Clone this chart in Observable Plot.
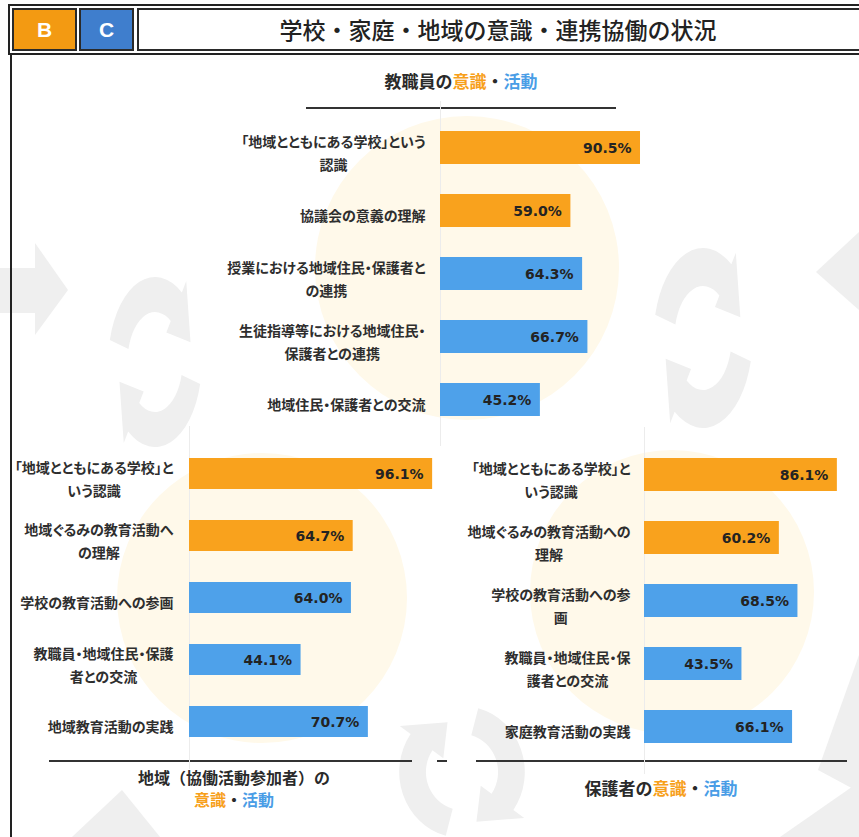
<!DOCTYPE html>
<html><head><meta charset="utf-8">
<script src="https://cdn.jsdelivr.net/npm/d3@7"></script>
<script src="https://cdn.jsdelivr.net/npm/@observablehq/plot@0.6"></script>
<style>
body{margin:0;background:#fff;}
#page{position:relative;width:859px;height:837px;overflow:hidden;background:#fff;font-family:"Noto Sans CJK JP",sans-serif;}
.abs{position:absolute;}
.box{box-sizing:border-box;border:2px solid #2a2a2a;color:#fff;font-family:"Liberation Sans",Arial,sans-serif;font-weight:bold;font-size:21px;text-align:center;line-height:39px;}
.title{left:137px;top:8px;width:722px;height:43px;line-height:43px;text-align:center;font-size:23px;font-weight:500;color:#222;letter-spacing:0px;}
.heading{font-weight:bold;font-size:17px;color:#2a2a2a;text-align:center;line-height:24px;}
.o{color:#F7A01B;}
.b{color:#4A9DE6;}
.rule{height:2px;background:#333;}
</style></head>
<body><div id="page">
<svg id="deco" class="abs" style="left:0;top:0" width="859" height="837"></svg>
<div class="abs" style="left:8px;top:4px;width:860px;height:51px;border:2px solid #222;box-sizing:border-box;"></div>
<div class="abs box" style="left:12px;top:8px;width:65px;height:43px;background:#F39A12;">B</div>
<div class="abs box" style="left:79px;top:8px;width:55px;height:43px;background:#3F7ECD;">C</div>
<div class="abs" style="left:137px;top:8px;width:730px;height:43px;border:2px solid #2a2a2a;box-sizing:border-box;background:#fff;"></div>
<div class="abs title">学校・家庭・地域の意識・連携協働の状況</div>
<div class="abs" style="left:10px;top:54px;width:2px;height:783px;background:#222;"></div>

<div class="abs heading" style="left:311px;top:69px;width:300px;">教職員の<span class="o">意識</span>・<span class="b">活動</span></div>
<div class="abs rule" style="left:306px;top:107px;width:310px;"></div>

<div class="abs rule" style="left:49px;top:760px;width:363px;"></div>
<div class="abs rule" style="left:437px;top:760px;width:10px;"></div>
<div class="abs rule" style="left:476px;top:760px;width:371px;"></div>
<div class="abs heading" style="left:84px;top:767px;width:300px;font-size:16px;line-height:20px;height:20px;">地域（協働活動参加者）の</div>
<div class="abs heading" style="left:84px;top:789px;width:300px;font-size:16px;line-height:20px;height:20px;"><span class="o">意識</span>・<span class="b">活動</span></div>
<div class="abs heading" style="left:511px;top:776px;width:300px;">保護者の<span class="o">意識</span>・<span class="b">活動</span></div>
</div>
<script>
// ---- data ----
const kinds = ["意識", "意識", "活動", "活動", "活動"];

const teacherLabels = [
  "「地域とともにある学校」という\n認識",
  "協議会の意義の理解",
  "授業における地域住民・保護者と\nの連携",
  "生徒指導等における地域住民・\n保護者との連携",
  "地域住民・保護者との交流"
];
const teacherValues = [90.5, 59.0, 64.3, 66.7, 45.2];

const communityLabels = [
  "「地域とともにある学校」と\nいう認識",
  "地域ぐるみの教育活動へ\nの理解",
  "学校の教育活動への参画",
  "教職員・地域住民・保護\n者との交流",
  "地域教育活動の実践"
];
const communityValues = [96.1, 64.7, 64.0, 44.1, 70.7];

const parentLabels = [
  "「地域とともにある学校」と\nいう認識",
  "地域ぐるみの教育活動への\n理解",
  "学校の教育活動への参\n画",
  "教職員・地域住民・保\n護者との交流",
  "家庭教育活動の実践"
];
const parentValues = [86.1, 60.2, 68.5, 43.5, 66.1];

const ORANGE = "#F9A21D";
const BLUE = "#4EA1EA";

// ---- decoration (background circles and faint arrows) ----
const NS = "http://www.w3.org/2000/svg";
const deco = document.getElementById("deco");
function add(tag, attrs, parent = deco) {
  const el = document.createElementNS(NS, tag);
  for (const k in attrs) el.setAttribute(k, attrs[k]);
  parent.appendChild(el);
  return el;
}
[[467, 268, 152], [262, 598, 145], [672, 592, 142]].forEach(([cx, cy, r]) =>
  add("circle", {cx, cy, r, fill: "#FFF9EA"}));
function arcArrow(R, r, a0, a1, head, w) {
  const P = (rho, deg) => { const t = deg * Math.PI / 180; return [(rho * Math.cos(t)).toFixed(1), (rho * Math.sin(t)).toFixed(1)].join(","); };
  const dir = a1 > a0 ? 1 : -1;
  const mid = (R + r) / 2;
  return `M${P(R, a0)}A${R},${R} 0 0 ${dir > 0 ? 1 : 0} ${P(R, a1)}L${P(R + w, a1)}L${P(mid, a1 + dir * head)}L${P(r - w, a1)}L${P(r, a1)}A${r},${r} 0 0 ${dir > 0 ? 0 : 1} ${P(r, a0)}Z`;
}
const GREY = "#EFEFEF";
function pair(cx, cy, sx, sy, rot, R, r) {
  const g = add("g", {transform: `translate(${cx},${cy}) rotate(${rot}) scale(${sx},${sy})`});
  add("path", {d: arcArrow(R, r, 195, 305, 38, 14), fill: GREY}, g);
  add("path", {d: arcArrow(R, r, 15, 125, 38, 14), fill: GREY}, g);
}
pair(155, 362, 0.55, 1, 0, 85, 50);
pair(703, 338, 0.55, 1, 180, 90, 52);
pair(462, 772, 1, 0.95, 90, 66, 38);
add("polygon", {points: "0,268 35,268 35,243 68,290 35,335 35,313 0,313", fill: GREY});
add("polygon", {points: "859,655 818,770 859,792", fill: GREY});
add("polygon", {points: "780,837 859,782 859,837", fill: GREY});
add("polygon", {points: "72,837 122,790 160,837", fill: GREY});
add("polygon", {points: "859,232 816,272 859,310", fill: GREY});

// ---- charts ----
const page = document.getElementById("page");
const meas = document.createElement("span");
meas.style.cssText = 'position:absolute;visibility:hidden;white-space:pre;font-weight:bold;font-size:14px;font-family:"Noto Sans CJK JP";font-feature-settings:"palt";';
document.body.appendChild(meas);
function blockWidth(s) {
  return Math.max(...s.split("\n").map(l => { meas.textContent = l; return meas.getBoundingClientRect().width; }));
}

function chart({labels, values, left, top, width, height, x0, k, y0, y1, padding, pad}) {
  const data = labels.map((label, i) => ({label, value: values[i], kind: kinds[i]}));
  const ml = x0 - left;
  const plot = Plot.plot({
    width, height,
    marginLeft: ml, marginRight: 0,
    marginTop: y0 - top, marginBottom: height - (y1 - top),
    x: {domain: [0, 100], range: [ml, ml + 100 * k], axis: null},
    y: {type: "band", domain: labels, range: [y0 - top, y1 - top], padding, axis: null},
    color: {domain: ["意識", "活動"], range: [ORANGE, BLUE]},
    style: {background: "transparent", overflow: "visible"},
    marks: [
      Plot.ruleX([0], {stroke: "#ececec", strokeWidth: 1}),
      Plot.barX(data, {x: "value", y: "label", fill: "kind"}),
      Plot.text(data, {
        x: d => -(pad + blockWidth(d.label) / 2) / k, y: "label", text: "label",
        textAnchor: "middle", lineHeight: 1.65, dy: 3,
        fontSize: 14, fontWeight: "bold", fill: "#2e2e2e", fontFamily: "Noto Sans CJK JP"
      }),
      Plot.text(data, {
        x: "value", y: "label", text: d => d.value.toFixed(1) + "%",
        textAnchor: "end", dx: -9, dy: 1,
        fontFamily: "DejaVu Sans", fontWeight: "bold", fontSize: 14, fill: "#232323"
      })
    ]
  });
  plot.style.position = "absolute";
  plot.style.left = left + "px";
  plot.style.top = top + "px";
  plot.style.fontFeatureSettings = '"palt"';
  page.appendChild(plot);
}

chart({labels: teacherLabels, values: teacherValues, left: 0, top: 90, width: 700, height: 380,
  x0: 440, k: 2.21, y0: 101, y1: 446, padding: 0.476, pad: 15});
chart({labels: communityLabels, values: communityValues, left: 0, top: 420, width: 450, height: 360,
  x0: 189, k: 2.53, y0: 426, y1: 769, padding: 0.5, pad: 16});
chart({labels: parentLabels, values: parentValues, left: 440, top: 420, width: 419, height: 360,
  x0: 644, k: 2.24, y0: 427, y1: 774, padding: 0.478, pad: 14});
</script>
</body></html>
